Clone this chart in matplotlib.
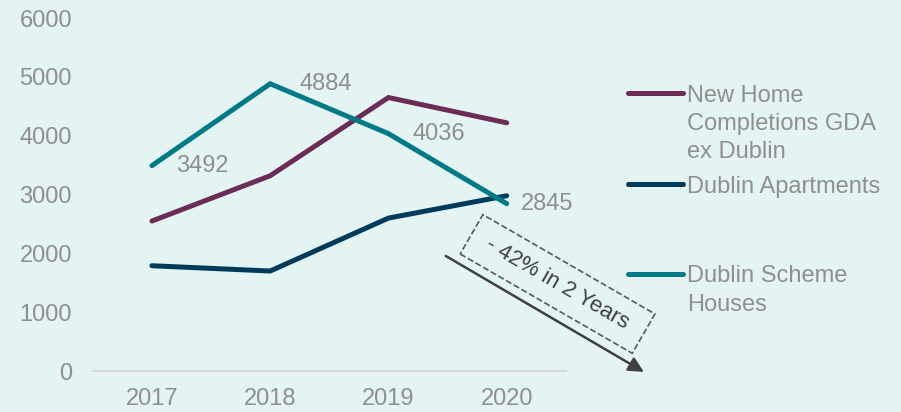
import matplotlib.pyplot as plt
from matplotlib.lines import Line2D

years = ['2017', '2018', '2019', '2020']
gda_ex_dublin = [2550, 3320, 4650, 4220]
dublin_apartments = [1790, 1700, 2600, 2980]
dublin_scheme_houses = [3492, 4884, 4036, 2845]
scheme_label_offsets = [36, 40, 36, 29]

bg = '#E4F4F3'
grey = '#8F8F8F'
purple = '#6B2C58'
navy = '#003B5C'
teal = '#007A87'

plt.rcParams['font.family'] = ['Liberation Sans', 'DejaVu Sans']

fig = plt.figure(figsize=(9.01, 4.12), dpi=100, facecolor=bg)
ax = fig.add_axes([0.103, 0.0995, 0.525, 0.8565])
ax.set_facecolor(bg)

x = range(len(years))
line_kw = dict(lw=3.6, solid_capstyle='round', solid_joinstyle='miter')
ax.plot(x, gda_ex_dublin, color=purple, **line_kw)
ax.plot(x, dublin_apartments, color=navy, **line_kw)
ax.plot(x, dublin_scheme_houses, color=teal, **line_kw)

# value labels for the scheme houses series
for i, v in enumerate(dublin_scheme_houses):
    ax.annotate(str(v), (i, v), xytext=(scheme_label_offsets[i], 0),
                textcoords='offset points', ha='center', va='center',
                fontsize=17, color=grey)

ax.set_xlim(-0.5, 3.5)
ax.set_ylim(0, 6000)
ax.set_xticks(list(x))
ax.set_xticklabels(years)
ax.set_yticks(range(0, 6001, 1000))
ax.tick_params(axis='both', length=0, labelsize=17, colors=grey)
ax.tick_params(axis='y', pad=15)
ax.tick_params(axis='x', pad=12)
for side in ['top', 'right', 'left']:
    ax.spines[side].set_visible(False)
ax.spines['bottom'].set_color('#D9D9D9')
ax.spines['bottom'].set_linewidth(1.5)

# trend arrow and dashed callout
ax.annotate('', xy=(4.16, -15), xytext=(2.485, 1956), xycoords='data',
            annotation_clip=False,
            arrowprops=dict(arrowstyle='-|>,head_length=0.9,head_width=0.45',
                            color='#404040', lw=1.8, shrinkA=0, shrinkB=0))
ax.text(3.43, 1480, ' - 42% in 2 Years ', rotation=-30, rotation_mode='anchor',
        ha='center', va='center', fontsize=16, color='#404040', clip_on=False,
        bbox=dict(boxstyle='square,pad=0.55', fc='none', ec='#595959',
                  ls='--', lw=1.2))

# legend
W, H = 901, 412
entries = [(purple, 'New Home\nCompletions GDA\nex Dublin', 93),
           (navy, 'Dublin Apartments', 184),
           (teal, 'Dublin Scheme\nHouses', 274)]
for color, label, ypx in entries:
    yf = 1 - ypx / H
    fig.add_artist(Line2D([628 / W, 683 / W], [yf, yf], color=color, lw=3.6,
                          solid_capstyle='round', transform=fig.transFigure))
    fig.text(687 / W, 1 - (ypx - 8.5) / H, label, ha='left', va='top',
             fontsize=17, color=grey, linespacing=1.36)

fig.savefig('out.png', dpi=100, facecolor=bg)
